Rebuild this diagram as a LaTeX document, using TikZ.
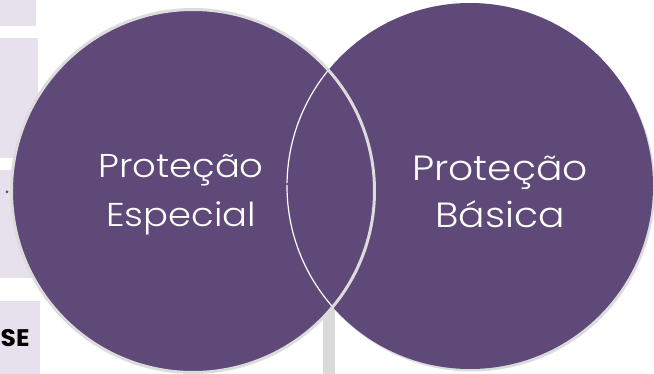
\documentclass[tikz,border=0pt]{standalone}
\usepackage{fontspec}
\setmainfont{Poppins}[UprightFont={* Light}, BoldFont={* Bold}]
\definecolor{purp}{HTML}{5F4979}
\definecolor{lav}{HTML}{E6E1EC}
\definecolor{rimg}{HTML}{DCDCDC}
\definecolor{barg}{HTML}{DADADA}
\tikzset{
  panel/.style={fill=lav, draw=none},
  venn/.style={circle, fill=purp, inner sep=0pt, outer sep=0pt},
  lbl/.style={text=white, anchor=base, inner sep=0pt},
  tinydot/.style={circle, fill=purp, inner sep=0pt, minimum size=3pt}
}
\begin{document}
\begin{tikzpicture}[x=1pt,y=-1pt]
\useasboundingbox (0,0) rectangle (654,374);
% background panels
\fill[panel] (0,0) rectangle (36,26);
\fill[panel] (0,38) rectangle (38,158);
\fill[panel] (0,170) rectangle (40,278);
\fill[panel] (0,301) rectangle (40,374);
\node[anchor=base west, inner sep=0pt, font=\bfseries\fontsize{24}{28}\selectfont\addfontfeatures{FakeStretch=1.04}] (se) at (0.5,347) {SE};
% vertical bar
\fill[barg] (323,290) rectangle (335,374);
% right circle with shadow
\fill[rimg] (472,188.5) circle (183);
\node[venn, minimum size=366pt] (rc) at (470,186) {};
% left circle with grey rim
\node[venn, minimum size=363pt, draw=rimg, line width=3pt] (lc) at (193,191) {};
% right circle's thin white outline within overlap
\begin{scope}
  \clip (193,191) circle (180);
  \draw[white, line width=1.2pt] (470,186) circle (183);
\end{scope}
% small dots
\node[tinydot] (d1) at (7,192) {};
\node[tinydot, minimum size=2.5pt] (d2) at (287,184) {};
% labels
\node[lbl, font=\fontsize{33}{38}\selectfont\addfontfeatures{FakeStretch=1.12}] (l1) at (181,178) {Proteção};
\node[lbl, font=\fontsize{33}{38}\selectfont\addfontfeatures{FakeStretch=1.12}] (l2) at (181,227) {Especial};
\node[lbl, font=\fontsize{35}{40}\selectfont\addfontfeatures{FakeStretch=1.12}] (r1) at (500,181) {Proteção};
\node[lbl, font=\fontsize{35}{40}\selectfont\addfontfeatures{FakeStretch=1.12}] (r2) at (500,228) {Básica};
\end{tikzpicture}
\end{document}
